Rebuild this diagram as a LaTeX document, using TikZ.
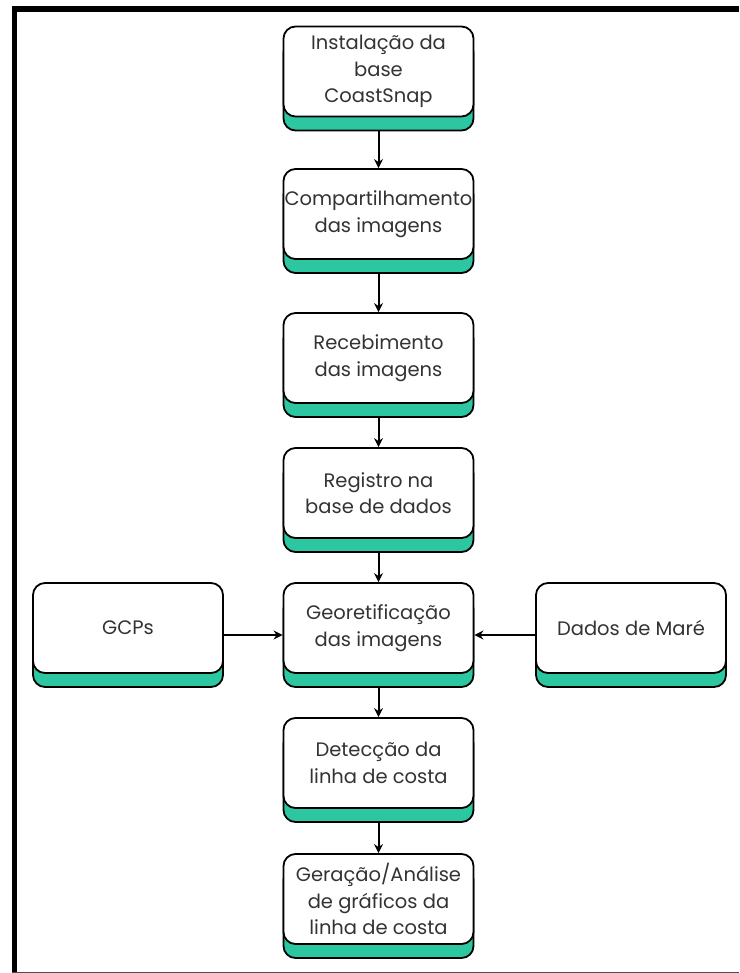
\documentclass[tikz,border=0pt]{standalone}
\usepackage{fontspec}
\setmainfont{Poppins}
\usetikzlibrary{shadows,arrows.meta}
\definecolor{verdeagua}{HTML}{2CC6A1}
\definecolor{textocinza}{HTML}{333333}
\tikzset{
	etapa/.style={draw, line width=1.8pt, rounded corners=12pt, fill=white,
		minimum width=190pt, minimum height=90pt, align=center, inner xsep=0pt, inner ysep=2pt,
		font=\fontsize{19.5}{26.5}\selectfont, text=textocinza,
		general shadow={shadow yshift=-14pt, fill=verdeagua, draw=black, line width=1.8pt}},
	seta/.style={-{Stealth[length=9pt,width=9pt]}, line width=2pt}
}
\begin{document}
\begin{tikzpicture}[x=1pt, y=-1pt]
	\useasboundingbox (0,0) rectangle (739,973);
	% moldura
	\fill (12,6) rectangle (739,12);
	\fill (12,6) rectangle (17,973);
	\fill[black!70] (12,971.5) rectangle (739,973);
	
	\node[etapa] (inst) at (378.5,71.5) {Instalação da\\base\\CoastSnap};
	\node[etapa] (comp) at (378.5,214) {Compartilhamento\\das imagens};
	\node[etapa] (rece) at (378.5,358) {Recebimento\\das imagens};
	\node[etapa] (regi) at (378.5,493) {Registro na\\base de dados};
	\node[etapa] (geor) at (378.5,628) {Georetificação\\das imagens};
	\node[etapa] (dete) at (378.5,763) {Detecção da\\linha de costa};
	\node[etapa] (gera) at (378.5,899) {Geração/Análise\\de gráficos da\\linha de costa};
	\node[etapa] (gcps) at (128,628) {GCPs};
	\node[etapa] (mare) at (631,628) {Dados de Maré};
	
	\draw[seta] ([yshift=-14pt]inst.south) -- (comp.north);
	\draw[seta] ([yshift=-14pt]comp.south) -- (rece.north);
	\draw[seta] ([yshift=-14pt]rece.south) -- (regi.north);
	\draw[seta] ([yshift=-14pt]regi.south) -- (geor.north);
	\draw[seta] ([yshift=-14pt]geor.south) -- (dete.north);
	\draw[seta] ([yshift=-14pt]dete.south) -- (gera.north);
	\draw[seta] ([yshift=-7pt]gcps.east) -- ([yshift=-7pt]geor.west);
	\draw[seta] ([yshift=-7pt]mare.west) -- ([yshift=-7pt]geor.east);
\end{tikzpicture}
\end{document}
